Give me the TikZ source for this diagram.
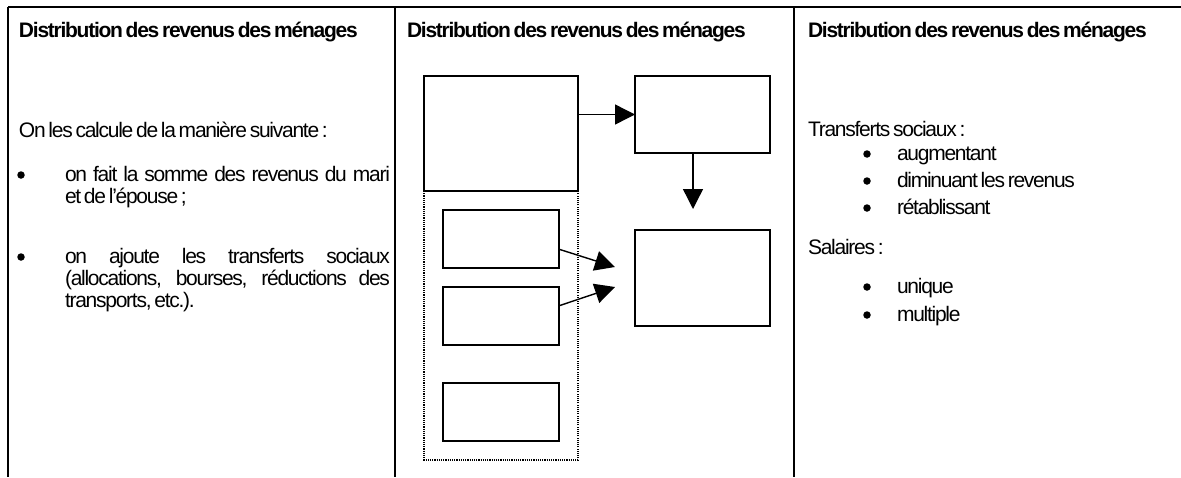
\documentclass[tikz,border=0pt]{standalone}
\usepackage{fontspec}
\setmainfont{Liberation Sans}[LetterSpace=-6,WordSpace=0.6]
\usetikzlibrary{arrows.meta}

\newcommand\bodysz{\fontsize{21}{22}\selectfont}
\newcommand\titlesz{\fontsize{21}{22}\selectfont\bfseries}

\begin{document}
\begin{tikzpicture}[x=1pt,y=-1pt,
  every node/.style={inner sep=0pt,outer sep=0pt},
  rule/.style={line width=1.3pt},
  box/.style={draw,line width=1.5pt,anchor=north west},
  dots/.style={line width=1.4pt,dash pattern=on 1.1pt off 1.1pt},
  arr/.style={line width=1.4pt,-{Triangle[length=20pt,width=20pt]}},
  dot/.style={circle,fill,minimum size=7.5pt},
  ttl/.style={anchor=base west,font=\titlesz},
  txt/.style={anchor=base west,font=\bodysz}]
\useasboundingbox (0,0) rectangle (1181,477);
% table rules
\draw[rule] (8,7)--(1181,7);
\foreach \x in {8,395,794} \draw[rule] (\x,7)--(\x,477);
% headings
\foreach \x/\n in {19/hdA,407/hdB,808/hdC}
  \node[ttl] (\n) at (\x,37.5) {Distribution des revenus des ménages};
% first column
\node[txt] (calc) at (19,137) {On les calcule de la manière suivante~:};
\node[dot] (bulA) at (21,175) {};
\node[txt] (sumA) at (65,181) {\makebox[325pt][s]{on fait la somme des revenus du mari}};
\node[txt] (sumB) at (65,203) {et de l'épouse~;};
\node[dot] (bulB) at (21,257) {};
\node[txt] (addA) at (65,263) {\makebox[325pt][s]{on ajoute les transferts sociaux}};
\node[txt] (addB) at (65,285) {\makebox[325pt][s]{(allocations, bourses, réductions des}};
\node[txt] (addC) at (65,307) {transports, etc.).};
% second column
\draw[dots] (424,191)--(424,460)--(578,460)--(578,191);
\node[box,minimum width=154,minimum height=115] (rev) at (424,76) {};
\node[box,minimum width=135,minimum height=77] (resA) at (635,76) {};
\node[box,minimum width=135,minimum height=96] (resB) at (635,230) {};
\foreach \y/\n in {210/srcA,287/srcB,383/srcC}
  \node[box,minimum width=116,minimum height=58] (\n) at (443,\y) {};
\coordinate (tipB) at (693,209);
\coordinate (tipC) at (615,267);
\coordinate (tipD) at (615,287);
\draw[arr] (rev.east |- resA.west)--(resA.west);
\draw[arr] (resA.south -| tipB)--(tipB);
\draw[arr] (srcA.-10)--(tipC);
\draw[arr] (srcB.10)--(tipD);
% third column
\node[txt] (trf) at (808,136) {Transferts sociaux~:};
\foreach \y/\n/\t in {160/augm/augmentant,187/dimi/diminuant les revenus,214/reta/rétablissant}{
  \node[dot] (b\n) at (867,\y-6) {};
  \node[txt] (\n) at (897,\y) {\t};}
\node[txt] (sal) at (808,254) {Salaires~:};
\foreach \y/\n/\t in {293/uniq/unique,321/mult/multiple}{
  \node[dot] (b\n) at (867,\y-6) {};
  \node[txt] (\n) at (897,\y) {\t};}
\end{tikzpicture}
\end{document}
